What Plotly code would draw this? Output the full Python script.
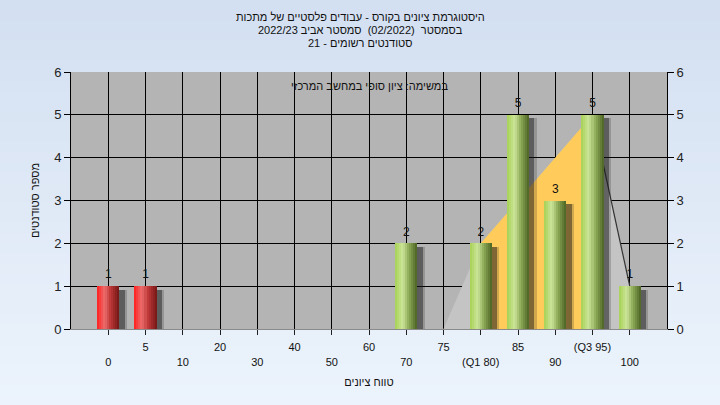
import plotly.graph_objects as go

# ---------------- data ----------------
categories = ["0", "5", "10", "20", "30", "40", "50", "60", "70", "75", "80", "85", "90", "95", "100"]
tick_labels = ["0", "5", "10", "20", "30", "40", "50", "60", "70", "75", "(Q1 80)", "85", "90", "(Q3 95)", "100"]
counts = [1, 1, 0, 0, 0, 0, 0, 0, 2, 0, 2, 5, 3, 5, 1]
failing = [True, True, False, False, False, False, False, False, False, False, False, False, False, False, False]

curve_x = ["75", "80", "85", "90", "95", "100"]
curve_y = [0, 2, 3, 4, 5, 1]
q1_cat = "80"
q3_cat = "95"

title_lines = [
    "היסטוגרמת ציונים בקורס - עבודים פלסטיים של מתכות",
    "בסמסטר  (02/2022)  סמסטר אביב 2022/23",
    "סטודנטים רשומים - 21",
]
note_text = "במשימה: ציון סופי במחשב המרכזי"
x_title = "טווח ציונים"
y_title = "מספר סטודנטים"

# ---------------- styles ----------------
FONT = "Liberation Sans"
W, H = 720, 405
ML, MR, MT, MB = 71, 53, 72, 76
PH = H - MT - MB
BAR_W = 0.6
N_STRIPS = 11

green_stops = [(0.0, (166, 210, 84)), (0.35, (204, 229, 154)), (0.6, (146, 176, 92)), (1.0, (74, 98, 34))]
red_stops = [(0.0, (255, 30, 30)), (0.35, (236, 110, 110)), (0.6, (190, 56, 56)), (1.0, (115, 22, 22))]


def interp(stops, t):
    for (t0, c0), (t1, c1) in zip(stops[:-1], stops[1:]):
        if t <= t1:
            f = (t - t0) / (t1 - t0) if t1 > t0 else 0
            return "rgb(%d,%d,%d)" % tuple(round(a + (b - a) * f) for a, b in zip(c0, c1))
    return "rgb(%d,%d,%d)" % stops[-1][1]


def py(px):
    """pixel row from top of figure -> paper y"""
    return 1 + (MT - px) / PH


fig = go.Figure()

# --- distribution area (under bars) on base axes ---
i1 = curve_x.index(q1_cat)
i3 = curve_x.index(q3_cat)
fig.add_trace(go.Scatter(x=curve_x[:i1 + 1], y=curve_y[:i1 + 1], mode="lines", fill="tozeroy",
                         fillcolor="#C4C4C4", line=dict(width=0), hoverinfo="skip", showlegend=False))
fig.add_trace(go.Scatter(x=curve_x[i1:i3 + 1], y=curve_y[i1:i3 + 1], mode="lines", fill="tozeroy",
                         fillcolor="#FFCC5C", line=dict(width=0), hoverinfo="skip", showlegend=False))
fig.add_trace(go.Scatter(x=curve_x[i3:], y=curve_y[i3:], mode="lines", fill="tozeroy",
                         fillcolor="#C4C4C4", line=dict(width=1.2, color="#333333"),
                         hoverinfo="skip", showlegend=False))

# --- bar shadows ---
for off, wid, alpha in [(0.10, 0.70, 0.2), (0.12, 0.62, 0.45)]:
    fig.add_trace(go.Bar(x=categories, y=counts, base=-0.08, width=wid, offset=-BAR_W / 2 + off,
                         marker=dict(color="rgba(25,25,25,%s)" % alpha, line=dict(width=0)),
                         xaxis="x2", yaxis="y2", hoverinfo="skip", showlegend=False))

# --- gradient bars as vertical strips ---
sw = BAR_W / N_STRIPS
for k in range(N_STRIPS):
    t = (k + 0.5) / N_STRIPS
    cols = [interp(red_stops if f else green_stops, t) for f in failing]
    extra = sw * 0.35 if k < N_STRIPS - 1 else 0
    fig.add_trace(go.Bar(x=categories, y=counts, width=sw + extra, offset=-BAR_W / 2 + k * sw,
                         marker=dict(color=cols, line=dict(width=0)),
                         xaxis="x2", yaxis="y2", hoverinfo="skip", showlegend=False))

# --- value labels ---
lab_x = [c for c, v in zip(categories, counts) if v > 0]
lab_y = [v for v in counts if v > 0]
fig.add_trace(go.Scatter(x=lab_x, y=lab_y, mode="markers+text", text=[str(v) for v in lab_y],
                         marker=dict(size=6, color="rgba(0,0,0,0)"),
                         textposition="top center", textfont=dict(family=FONT, size=12, color="#111111"),
                         xaxis="x2", yaxis="y2", hoverinfo="skip", showlegend=False, cliponaxis=False))

# --- background gradient via shapes ---
shapes = []
top_c, bot_c = (211, 224, 241), (236, 243, 252)
n = 40
y_lo = -MB / PH
y_hi = 1 + MT / PH
for i in range(n):
    f = i / (n - 1)
    c = tuple(round(b + (a - b) * f) for a, b in zip(top_c, bot_c))
    y0 = y_lo + (y_hi - y_lo) * i / n
    y1 = y_lo + (y_hi - y_lo) * (i + 1) / n + 0.002
    shapes.append(dict(type="rect", xref="paper", yref="paper", x0=-0.2, x1=1.2, y0=y0, y1=y1,
                       fillcolor="rgb(%d,%d,%d)" % c, line=dict(width=0), layer="below"))
shapes.append(dict(type="rect", xref="paper", yref="paper", x0=0, x1=1, y0=0, y1=1,
                   fillcolor="#B4B4B4", line=dict(width=0), layer="below"))

# alternate tick label rows
ticktext = [("\u00a0<br>" + lab) if i % 2 == 0 else lab for i, lab in enumerate(tick_labels)]

annotations = []
for line, ypx in zip(title_lines, [17, 30, 43]):
    annotations.append(dict(text=line, xref="paper", yref="paper", x=(W / 2 - ML) / (W - ML - MR),
                            y=py(ypx), xanchor="center", yanchor="middle", showarrow=False,
                            font=dict(family=FONT, size=11, color="#111111")))
annotations.append(dict(text=note_text, xref="paper", yref="paper", x=0.5, y=py(86),
                        xanchor="center", yanchor="middle", showarrow=False,
                        font=dict(family=FONT, size=11, color="#111111")))

fig.update_layout(
    width=W, height=H,
    margin=dict(l=ML, r=MR, t=MT, b=MB),
    paper_bgcolor="rgb(236,243,252)",
    plot_bgcolor="#B4B4B4",
    barmode="overlay",
    bargap=0,
    shapes=shapes,
    font=dict(family=FONT, size=11, color="#111111"),
    xaxis=dict(type="category", categoryorder="array", categoryarray=categories,
               range=[-1, len(categories)], tickmode="array", tickvals=categories, ticktext=ticktext,
               ticks="outside", ticklen=5, tickcolor="#222222", showgrid=True, gridcolor="#000000",
               gridwidth=1, showline=True, linecolor="#8A8A8A", linewidth=1, ticklabelstandoff=3,
               tickfont=dict(family=FONT, size=11, color="#111111"),
               title=dict(text=x_title, standoff=11, font=dict(family=FONT, size=11, color="#111111"))),
    yaxis=dict(range=[0, 6], dtick=1, ticks="outside", ticklen=6, tickcolor="#000000",
               showgrid=True, gridcolor="#000000", gridwidth=1, zeroline=False,
               showline=True, linecolor="#000000", linewidth=1,
               tickfont=dict(family=FONT, size=13, color="#222222"),
               title=dict(text=y_title, standoff=12, font=dict(family=FONT, size=11, color="#111111"))),
    xaxis2=dict(type="category", categoryorder="array", categoryarray=categories,
                range=[-1, len(categories)], overlaying="x", visible=False),
    yaxis2=dict(range=[0, 6], dtick=1, overlaying="y", side="right", ticks="outside", ticklen=6,
                tickcolor="#000000", showgrid=False, zeroline=False, showline=True,
                linecolor="#000000", linewidth=1,
                tickfont=dict(family=FONT, size=13, color="#222222")),
    annotations=annotations,
)

fig.write_html("out.html", config={"displayModeBar": False},
               post_script="document.body.style.margin='0';")
